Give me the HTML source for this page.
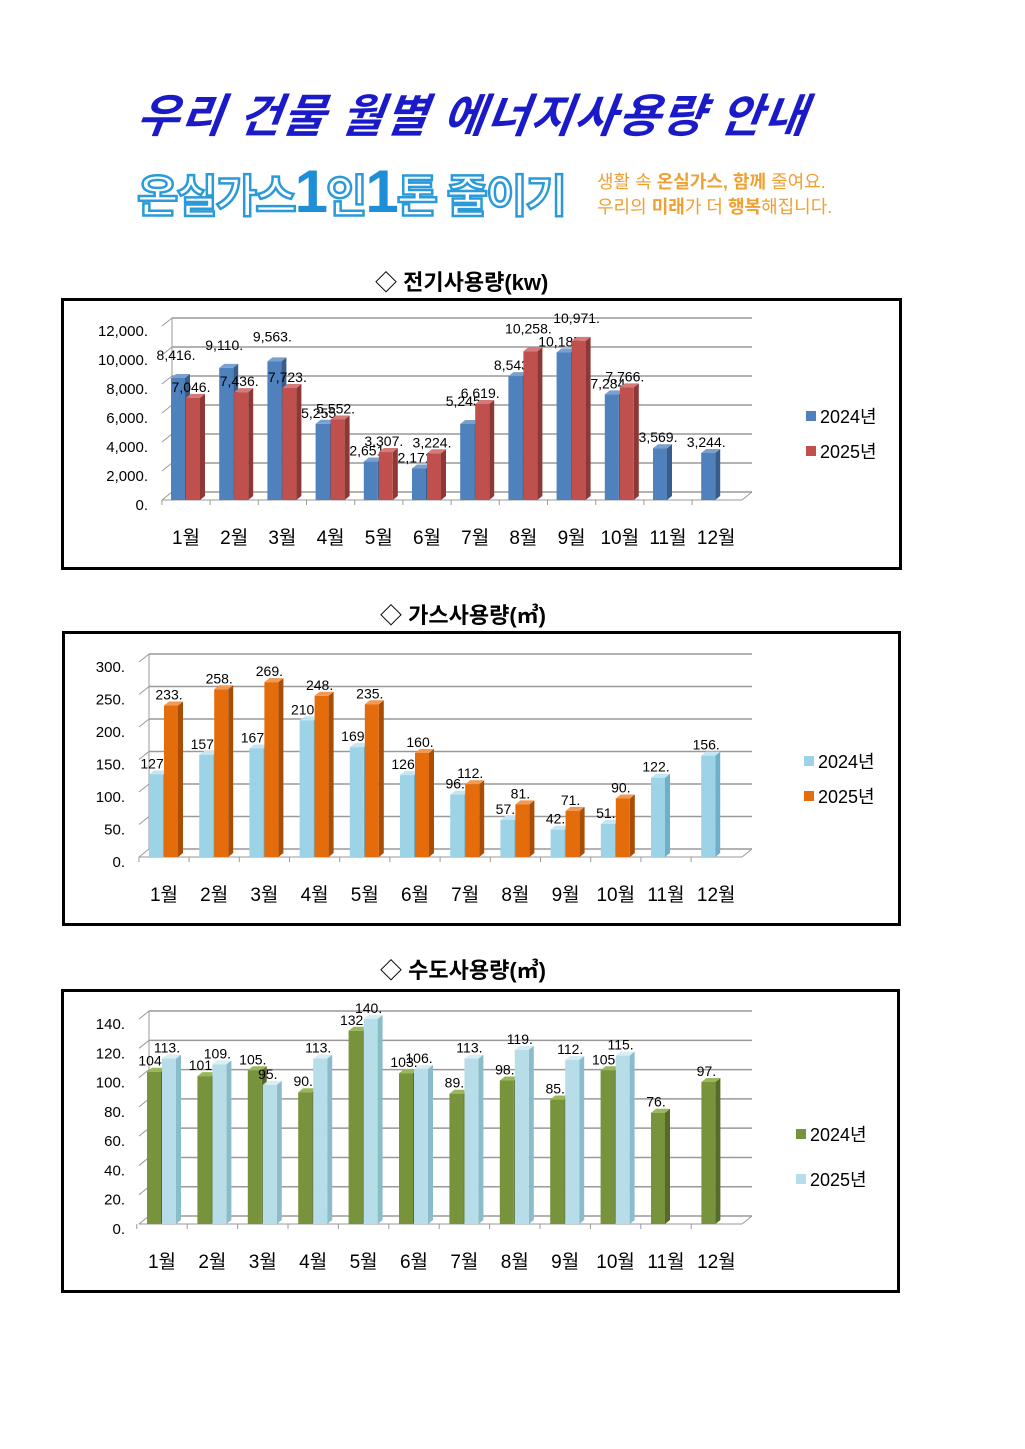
<!DOCTYPE html>
<html><head><meta charset="utf-8">
<style>
body{margin:0;background:#fff;width:1025px;height:1449px;position:relative;overflow:hidden;font-family:"Liberation Sans","Noto Sans CJK KR",sans-serif}
.t{position:absolute;white-space:nowrap}
.box{position:absolute;border:3px solid #000;box-sizing:border-box}
</style></head><body>
<div class="t" style="left:138px;top:80px;font-size:46px;font-weight:bold;font-style:italic;color:#1a1ac8;letter-spacing:1.5px;transform:skewX(-8deg)">우리 건물 월별 에너지사용량 안내</div>
<div class="t" style="left:137px;top:157px;font-size:45px;font-weight:bold;color:#fff;-webkit-text-stroke:2.5px #2a9ad8;letter-spacing:-2px">온실가스<span style="color:#1e8fd6;font-size:60px;-webkit-text-stroke:0">1</span>인<span style="color:#1e8fd6;font-size:60px;-webkit-text-stroke:0">1</span>톤 줄이기</div>
<div class="t" style="left:597px;top:170px;font-size:18px;color:#f0a030;line-height:25px;letter-spacing:0px">생활 속 <b>온실가스, 함께</b> 줄여요.<br>우리의 <b>미래</b>가 더 <b>행복</b>해집니다.</div>
<div class="t" style="left:375px;top:265px;font-size:22px;font-weight:bold">◇ 전기사용량(kw)</div>
<div class="t" style="left:380px;top:598px;font-size:22px;font-weight:bold">◇ 가스사용량(㎥)</div>
<div class="t" style="left:380px;top:953px;font-size:22px;font-weight:bold">◇ 수도사용량(㎥)</div>
<div class="box" style="left:61px;top:298px;width:841px;height:272px"></div>
<div class="box" style="left:62px;top:631px;width:839px;height:295px"></div>
<div class="box" style="left:61px;top:989px;width:839px;height:304px"></div>
<svg id="s" width="1025" height="1449" style="position:absolute;left:0;top:0" font-family="Liberation Sans, Noto Sans CJK KR, sans-serif"></svg>
<script>
var S=document.getElementById('s'),h='';
function fmt(v,c){return (c?v.toLocaleString('en-US'):v)+'.';}
function chart(o){
 var xL=o.xL,xR=752,y0=o.y0,k=o.k,dx=10,dy=8;
 for(var v=0;v<=o.max;v+=o.step){var y=y0-v*k;
  h+='<line x1="'+xL+'" y1="'+y+'" x2="'+(xL+dx)+'" y2="'+(y-dy)+'" stroke="#999"/>';
  h+='<line x1="'+(xL+dx)+'" y1="'+(y-dy)+'" x2="'+xR+'" y2="'+(y-dy)+'" stroke="#999" stroke-width="1.5"/>';
  h+='<text x="'+(xL-14)+'" y="'+(y+10)+'" font-size="15" text-anchor="end">'+fmt(v,o.comma)+'</text>';}
 h+='<line x1="'+(xL+dx)+'" y1="'+(y0-dy)+'" x2="'+(xL+dx)+'" y2="'+(y0-o.max*k-dy)+'" stroke="#999"/>';
 h+='<line x1="'+xL+'" y1="'+y0+'" x2="'+(xR-dx)+'" y2="'+y0+'" stroke="#999"/><line x1="'+(xR-dx)+'" y1="'+y0+'" x2="'+xR+'" y2="'+(y0-dy)+'" stroke="#999"/>';
 for(var i=0;i<12;i++){
  var c=o.c0+i*o.cw;
  h+='<line x1="'+(c-o.cw/2)+'" y1="'+y0+'" x2="'+(c-o.cw/2)+'" y2="'+(y0+5)+'" stroke="#999"/>';
  h+='<text x="'+c+'" y="'+(y0+44)+'" font-size="19" text-anchor="middle">'+(i+1)+'월</text>';
  [o.a,o.b].forEach(function(arr,j){var v=arr[i];if(v==null)return;
   var w=14,x=c-15+j*15,t=y0-v*k,col=o.col[j];
   h+='<polygon points="'+(x+w)+','+y0+' '+(x+w+5)+','+(y0-4)+' '+(x+w+5)+','+(t-4)+' '+(x+w)+','+t+'" fill="'+col[1]+'"/>';
   h+='<polygon points="'+x+','+t+' '+(x+5)+','+(t-4)+' '+(x+w+5)+','+(t-4)+' '+(x+w)+','+t+'" fill="'+col[2]+'"/>';
   h+='<rect x="'+x+'" y="'+t+'" width="'+w+'" height="'+(y0-t)+'" fill="'+col[0]+'"/>';
   h+='<text x="'+(x+5)+'" y="'+(t-6-(o.off?o.off[j][i]:0))+'" font-size="14" text-anchor="middle">'+fmt(v,o.comma)+'</text>';});
 }
 o.leg.forEach(function(l,j){h+='<rect x="'+o.lx+'" y="'+(o.ly+j*o.lg-6)+'" width="10" height="10" fill="'+o.col[j][0]+'"/><text x="'+(o.lx+14)+'" y="'+(o.ly+j*o.lg+6)+'" font-size="18">'+l+'</text>';});
}
chart({xL:162,y0:500,k:0.0145,max:12000,step:2000,comma:1,c0:186,cw:48.2,
 a:[8416,9110,9563,5255,2651,2171,5245,8543,10185,7284,3569,3244],
 b:[7046,7436,7723,5552,3307,3224,6619,10258,10971,7766,null,null],
 col:[['#4f81bd','#385d8a','#7aa0d0'],['#c0504d','#8c3836','#d47a78']],leg:['2024년','2025년'],lx:806,ly:417,lg:35,
 off:[[12,12,14,0,0,0,12,0,0,0,0,0],[0,0,0,0,0,0,0,12,12,0,0,0]]});
chart({xL:139,y0:857,k:0.65,max:300,step:50,comma:0,c0:164,cw:50.2,
 a:[127,157,167,210,169,126,96,57,42,51,122,156],
 b:[233,258,269,248,235,160,112,81,71,90,null,null],
 col:[['#9dd3e6','#6fb0c8','#c4e6f2'],['#e46c0a','#a84e07','#f09a55']],leg:['2024년','2025년'],lx:804,ly:762,lg:35});
chart({xL:139,y0:1224,k:1.464,max:140,step:20,comma:0,c0:162,cw:50.4,
 a:[104,101,105,90,132,103,89,98,85,105,76,97],
 b:[113,109,95,113,140,106,113,119,112,115,null,null],
 col:[['#77933c','#566b2b','#9ab85a'],['#b7dee8','#8bbccb','#d6eef4']],leg:['2024년','2025년'],lx:796,ly:1135,lg:45});
S.innerHTML=h;
</script>
</body></html>
